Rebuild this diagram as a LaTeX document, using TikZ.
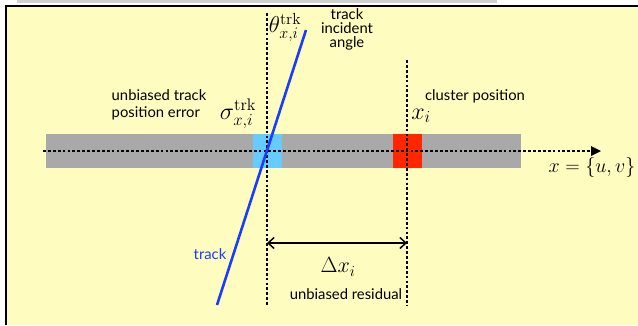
\RequirePackage{fix-cm}
\documentclass[tikz,border=0pt]{standalone}
\usepackage[no-math]{fontspec}
\setmainfont{Lato}
\usetikzlibrary{arrows.meta}
\definecolor{bgyellow}{RGB}{255,252,192}
\definecolor{bargray}{RGB}{169,169,169}
\definecolor{topgray}{RGB}{208,208,208}
\definecolor{errblue}{RGB}{102,204,255}
\definecolor{clred}{RGB}{255,38,0}
\definecolor{trkblue}{RGB}{25,60,255}
\begin{document}
\begin{tikzpicture}[x=1pt,y=-1pt,
  dotline/.style={line width=2.8pt, dash pattern=on 2.8pt off 2.1pt},
  lbl/.style={font=\fontsize{14.8}{16}\selectfont, inner sep=0pt},
  mathlbl/.style={inner sep=0pt},
  trackline/.style={trkblue, line width=2.6pt},
  resid/.style={line width=1.5pt, {Straight Barb[length=6pt,width=11pt]}-{Straight Barb[length=6pt,width=11pt]}}
]
\useasboundingbox (0,0) rectangle (638,325);
% background and frame
\fill[bgyellow] (6,6) rectangle (638,325);
\fill[topgray] (17,0) rectangle (497,3.2);
\draw[line width=2.6pt, line join=miter] (6,325) -- (6,6) -- (638,6);
% detector strip
\fill[bargray] (46,134) rectangle (521,168);
\fill[errblue] (253,134) rectangle (282,168);
\fill[clred] (393,134) rectangle (422,168);
% coordinates
\coordinate (axL) at (43,151);
\coordinate (axR) at (601,151);
\coordinate (v1T) at (267,13);
\coordinate (v1B) at (267,306);
\coordinate (v2T) at (407,60);
\coordinate (v2B) at (407,306);
\coordinate (trT) at (306,30);
\coordinate (trB) at (217,305);
\coordinate (rL) at (267,243);
\coordinate (rR) at (407,243);
% axis
\draw[dotline] (axL) -- ([xshift=-8pt]axR);
\fill (axR) -- ++(-10,-5) -- ++(0,10) -- cycle;
% vertical dotted lines
\draw[dotline] (v1T) -- (v1B);
\draw[dotline] (v2T) -- (v2B);
% track
\draw[trackline] (trT) -- (trB);
% residual arrow
\draw[resid] (rL) -- (rR);
% labels
\node[mathlbl, font=\fontsize{23}{26}\selectfont] (theta) at (285,27) {$\theta^{\mathrm{trk}}_{x,i}$};
\node[lbl, align=center, font=\fontsize{14.8}{14}\selectfont] (angle) at (347,29) {track\\incident\\angle};
\node[lbl, align=left, font=\fontsize{14.8}{17}\selectfont] (perr) at (159,105) {unbiased track\\position error};
\node[mathlbl, font=\fontsize{24}{27}\selectfont] (sigma) at (238,114) {$\sigma^{\mathrm{trk}}_{x,i}$};
\node[lbl] (clpos) at (475,96) {cluster position};
\node[mathlbl, font=\fontsize{24}{27}\selectfont] (xi) at (421,116) {$x_i$};
\node[mathlbl, font=\fontsize{20}{23}\selectfont] (xuv) at (592,167) {$x=\{u,v\}$};
\node[lbl, text=trkblue] (trk) at (210,254) {track};
\node[mathlbl, font=\fontsize{22}{25}\selectfont] (dx) at (338,267) {$\Delta x_i$};
\node[lbl] (ures) at (346,294) {unbiased residual};
\end{tikzpicture}
\end{document}
